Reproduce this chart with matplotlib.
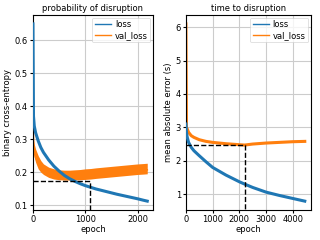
import matplotlib
matplotlib.use("Agg")
import matplotlib.pyplot as plt
from matplotlib.lines import Line2D

# probability of disruption (left panel)
ep_prob = [0, 10, 25, 50, 100, 150, 200, 300, 400, 500, 600, 700, 800, 900,
           1000, 1100, 1200, 1400, 1600, 1800, 2000, 2100, 2180]
loss_prob = [0.65, 0.37, 0.34, 0.32, 0.295, 0.275, 0.26, 0.237, 0.218, 0.203,
             0.19, 0.18, 0.172, 0.165, 0.159, 0.154, 0.149, 0.141, 0.133,
             0.126, 0.119, 0.115, 0.112]
val_prob = [0.5, 0.28, 0.26, 0.245, 0.225, 0.212, 0.205, 0.195, 0.19, 0.188,
            0.187, 0.187, 0.188, 0.189, 0.19, 0.191, 0.193, 0.196, 0.199,
            0.202, 0.205, 0.206, 0.207]
val_prob_lo = [0.5, 0.26, 0.245, 0.23, 0.21, 0.2, 0.193, 0.184, 0.179, 0.177,
               0.176, 0.176, 0.176, 0.177, 0.178, 0.179, 0.181, 0.184, 0.187,
               0.19, 0.193, 0.194, 0.195]
val_prob_hi = [0.5, 0.3, 0.285, 0.27, 0.25, 0.235, 0.225, 0.215, 0.21, 0.207,
               0.206, 0.206, 0.207, 0.208, 0.21, 0.211, 0.213, 0.216, 0.219,
               0.222, 0.225, 0.226, 0.227]
best_prob = (1090, 0.172)

# time to disruption (right panel)
ep_time = [0, 20, 50, 100, 200, 300, 500, 750, 1000, 1500, 2000, 2200, 2500,
           3000, 3500, 4000, 4450]
loss_time = [3.1, 2.85, 2.7, 2.55, 2.4, 2.3, 2.15, 1.97, 1.8, 1.57, 1.37,
             1.3, 1.2, 1.06, 0.96, 0.87, 0.79]
val_time = [6.1, 3.0, 2.95, 2.85, 2.75, 2.7, 2.63, 2.58, 2.55, 2.51, 2.48,
            2.47, 2.5, 2.53, 2.55, 2.57, 2.58]
best_time = (2230, 2.46)

blue = '#1f77b4'
orange = '#ff7f0e'
fs = 6

fig = plt.figure(figsize=(3.2, 2.4), dpi=100)
ax1 = fig.add_axes([0.103, 0.125, 0.375, 0.8125])
ax2 = fig.add_axes([0.581, 0.125, 0.39, 0.8125])


def panel(ax, ep, loss, val, best, title, ylabel, lw_loss, lw_val, lo=None, hi=None):
    ax.plot(ep, loss, color=blue, lw=lw_loss, zorder=3)
    ax.plot(ep, val, color=orange, lw=lw_val, zorder=2)
    if lo is not None:
        ax.fill_between(ep, lo, hi, color=orange, lw=0, zorder=2)
    ax.set_xlim(left=0)
    y0, y1 = ax.get_ylim()
    ax.plot([0, best[0], best[0]], [best[1], best[1], y0], 'k--', lw=1, zorder=4)
    ax.set_ylim(y0, y1)
    ax.grid(True, color='#cccccc', lw=0.8)
    ax.set_axisbelow(True)
    ax.set_title(title, fontsize=fs, pad=3)
    ax.set_xlabel('epoch', fontsize=fs, labelpad=1)
    ax.set_ylabel(ylabel, fontsize=fs, labelpad=2)
    ax.tick_params(labelsize=fs, length=2, pad=1.5)
    handles = [Line2D([], [], color=blue, lw=1.0),
               Line2D([], [], color=orange, lw=1.0)]
    leg = ax.legend(handles, ['loss', 'val_loss'], loc='upper right', fontsize=fs,
                    handlelength=1.9, handletextpad=0.5, borderpad=0.3,
                    labelspacing=0.2, borderaxespad=0.3)
    leg.get_frame().set_linewidth(0.5)


panel(ax1, ep_prob, loss_prob, val_prob, best_prob, 'probability of disruption',
      'binary cross-entropy', 2.2, 1.2, val_prob_lo, val_prob_hi)
panel(ax2, ep_time, loss_time, val_time, best_time, 'time to disruption',
      'mean absolute error (s)', 2.2, 2.2)
ax2.set_xticks([0, 1000, 2000, 3000, 4000])

fig.savefig('out.png', dpi=100)
